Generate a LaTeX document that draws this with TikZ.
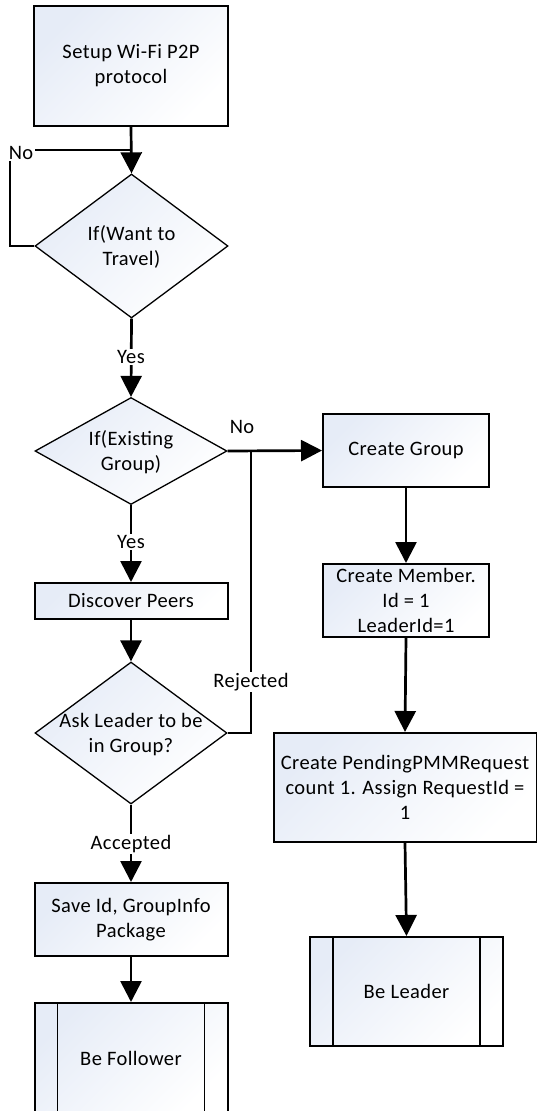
\documentclass[tikz,border=0pt]{standalone}
\usepackage{fontspec}
\setmainfont{Carlito}[LetterSpace=2]
\usetikzlibrary{arrows.meta,shapes.geometric}
\definecolor{boxblue}{HTML}{E6ECF7}
\tikzset{
  shadefill/.style={top color=boxblue, bottom color=white, shading angle=45},
  procbox/.style={draw, line width=2pt, shadefill, inner sep=0pt, align=center},
  decision/.style={diamond, draw, line width=1.3pt, shadefill, inner sep=0pt},
  dtext/.style={align=center, inner sep=0pt},
  conn/.style={line width=2.7pt, -{Triangle[length=21pt,width=21pt]}},
  plainconn/.style={line width=2.7pt},
  lbl/.style={fill=white, inner sep=1.5pt},
  lblfree/.style={inner sep=1.5pt}
}
\begin{document}
\begin{tikzpicture}[x=1pt,y=-1pt,font=\fontsize{20.5}{25}\selectfont]
\useasboundingbox (0,0) rectangle (537,1111);

% left column
\node[procbox, minimum width=194pt, minimum height=120pt] (setup) at (131,66) {Setup Wi-Fi P2P\\protocol};
\node[decision, minimum width=193pt, minimum height=144pt] (d1) at (131.5,246) {};
\node[dtext] (d1t) at (131.5,247) {If(Want to\\Travel)};
\node[decision, minimum width=192pt, minimum height=107pt] (d2) at (131,451) {};
\node[dtext] (d2t) at (131,452) {If(Existing\\Group)};
\node[procbox, minimum width=193pt, minimum height=36pt] (disc) at (131,601) {Discover Peers};
\node[decision, minimum width=192pt, minimum height=142pt] (d3) at (131,733) {};
\node[dtext] (d3t) at (131,735) {Ask Leader to be\\in Group?};
\node[procbox, minimum width=193pt, minimum height=73pt] (save) at (131,919.5) {Save Id, GroupInfo\\Package};
\node[procbox, minimum width=193pt, minimum height=110pt] (foll) at (131,1058) {Be Follower};
\draw[line width=1.5pt] ([xshift=24pt]foll.north west) -- ([xshift=24pt]foll.south west)
                        ([xshift=-24pt]foll.north east) -- ([xshift=-24pt]foll.south east);

% right column
\node[procbox, minimum width=166pt, minimum height=73pt] (grp) at (406,450.5) {Create Group};
\node[procbox, minimum width=166pt, minimum height=73pt] (mem) at (406,600.5) {Create Member.\\Id = 1\\LeaderId=1};
\node[procbox, minimum width=263pt, minimum height=109pt] (pend) at (405,787.5) {Create PendingPMMRequest\\count 1. Assign RequestId =\\1};
\node[procbox, minimum width=193pt, minimum height=109pt] (lead) at (406.5,991.5) {Be Leader};
\draw[line width=1.5pt] ([xshift=24pt]lead.north west) -- ([xshift=24pt]lead.south west)
                        ([xshift=-24pt]lead.north east) -- ([xshift=-24pt]lead.south east);

% connectors
\coordinate (join1) at (131,150);
\coordinate (loopbl) at (10,246);
\coordinate (looptl) at (10,150);
\draw[conn] (setup.south) -- (d1.north);
\draw[plainconn, line width=2.3pt] (d1.west) -- (loopbl) -- (looptl) -- (join1);
\node[lbl] (no1) at (21,153) {No};

\draw[conn] (d1.south) -- (d2.north);
\node[lbl] (yes1) at (131,357) {Yes};
\draw[conn] (d2.south) -- (disc.north);
\node[lbl] (yes2) at (131,542) {Yes};
\draw[conn] (disc.south) -- (d3.north);
\draw[conn] (d3.south) -- (save.north);
\node[lbl] (acc) at (131,844) {Accepted};
\draw[conn] (save.south) -- (foll.north);

\coordinate (rjoin) at (251,451);
\coordinate (rbot) at (251,733);
\draw[conn] (d2.east) -- (grp.west);
\node[lblfree] (no2) at (242,427) {No};
\draw[plainconn] (d3.east) -- (rbot) -- (rjoin);
\node[lbl] (rej) at (251,682) {Rejected};

\draw[conn] (grp.south) -- (mem.north);
\draw[conn] (mem.south) -- (pend.north);
\draw[conn] (pend.south) -- (lead.north);
\end{tikzpicture}
\end{document}
